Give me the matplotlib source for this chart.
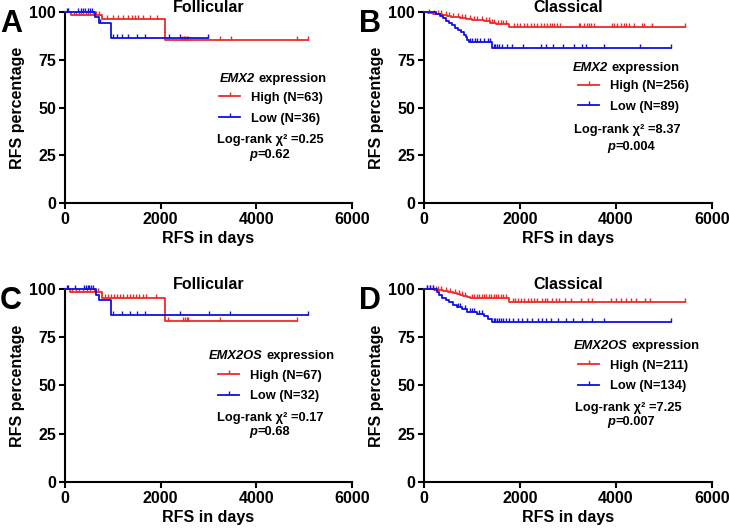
import numpy as np
import matplotlib
matplotlib.use("Agg")
import matplotlib.pyplot as plt
from matplotlib.lines import Line2D

plt.rcParams.update({
    "font.family": ["Liberation Sans", "DejaVu Sans"],
    "font.weight": "bold",
    "axes.labelweight": "bold",
    "axes.titleweight": "bold",
    "font.size": 11.5,
})

RED = "#EE2A2A"
BLUE = "#1010E0"

# ---- data (time in days, RFS percentage; last entry = end of follow-up) ----
A_HIGH_T = [0, 130, 770, 2090, 5080]
A_HIGH_S = [100, 98.4, 96.2, 85.3, 85.3]
A_HIGH_CENS = [180, 230, 290, 330, 380, 430, 480, 530, 580, 640, 700,
               870, 1010, 1110, 1220, 1320, 1390, 1460, 1530, 1640, 1780, 1920,
               2440, 2480, 2510, 2550, 2580, 3240, 3480, 4850, 5080]
A_LOW_T = [0, 630, 700, 960, 2990]
A_LOW_S = [100, 97.2, 94.4, 86.6, 86.6]
A_LOW_CENS = [40, 70, 280, 330, 380, 420, 470, 520, 570, 730,
              1010, 1080, 1190, 1320, 1500, 1670, 2180, 2400, 2990]

B_HIGH_T = [0, 80, 180, 280, 380, 470, 560, 650, 760, 880, 1000, 1120,
            1250, 1370, 1500, 1780, 5440]
B_HIGH_S = [100, 99.6, 99.2, 98.8, 98.4, 98.0, 97.6, 97.2, 96.8, 96.4, 96.0,
            95.6, 95.2, 94.4, 93.8, 92.4, 92.4]
B_HIGH_CENS = [100, 200, 300, 350, 450, 520, 600, 700, 800, 850, 950, 1050,
               1100, 1200, 1300, 1350, 1420, 1460, 1550, 1600, 1650, 1700,
               1870, 1940, 2010, 2080, 2150, 2220, 2290, 2360, 2430, 2500,
               2560, 2620, 2670, 2710, 2770, 2840, 3220, 3260, 3330, 3400,
               3430, 3470, 3540, 3920, 3960, 4030, 4100, 4160, 4200, 4270,
               4380, 4540, 4590, 4750, 5440]
B_LOW_T = [0, 250, 330, 400, 460, 520, 580, 640, 700, 770, 830, 870, 900,
           930, 1420, 5150]
B_LOW_S = [100, 98.9, 97.8, 96.6, 95.4, 94.2, 93.0, 91.8, 90.6, 89.4, 88.2,
           86.9, 85.6, 84.3, 81.0, 81.0]
B_LOW_CENS = [960, 1010, 1060, 1110, 1160, 1250, 1330, 1380, 1450, 1480,
              1520, 1560, 1630, 1730, 1840, 2070, 2430, 2540, 2680, 2890,
              3130, 3300, 3380, 3760, 4500, 5150]

C_HIGH_T = [0, 100, 770, 2090, 4840]
C_HIGH_S = [100, 98.5, 95.5, 83.6, 83.6]
C_HIGH_CENS = [150, 220, 300, 380, 450, 520, 600, 680,
               840, 900, 960, 1020, 1080, 1150, 1220, 1290, 1350, 1420, 1480,
               1540, 1620, 1690, 1900,
               2160, 2470, 2510, 2550, 2580, 3240, 4840]
C_LOW_T = [0, 640, 700, 960, 5080]
C_LOW_S = [100, 97.0, 94.2, 86.7, 86.7]
C_LOW_CENS = [40, 70, 210, 390, 430, 470, 510, 550, 590,
              1010, 1190, 1360, 1500, 1670, 2410, 3000, 3450, 5080]

D_HIGH_T = [0, 200, 400, 500, 600, 680, 750, 820, 900, 950, 1770, 5430]
D_HIGH_S = [100, 99.5, 99.0, 98.5, 98.0, 97.5, 97.0, 96.5, 96.0, 95.4,
            93.1, 93.1]
D_HIGH_CENS = [60, 120, 180, 250, 300, 350, 450, 550, 650, 720, 790, 860,
               1000, 1050, 1100, 1150, 1200, 1250, 1300, 1350, 1400, 1450,
               1500, 1550, 1600, 1650, 1700, 1850, 1900, 1960, 2020, 2090,
               2160, 2230, 2300, 2350, 2450, 2520, 2560, 2660, 2760, 2820,
               2930, 3060, 3280, 3420, 3510, 3900, 4000, 4110, 4200, 4320,
               4420, 4610, 4700, 5430]
D_LOW_T = [0, 270, 320, 380, 450, 520, 600, 680, 800, 900, 1100, 1250,
           1330, 1420, 5150]
D_LOW_S = [100, 98.5, 97.0, 95.5, 94.3, 93.1, 91.9, 90.7, 89.5, 88.3,
           87.0, 85.8, 84.5, 83.0, 83.0]
D_LOW_CENS = [60, 120, 180, 700, 750, 850, 950, 1000, 1050, 1150, 1200,
              1450, 1480, 1520, 1560, 1600, 1650, 1700, 1780, 1850, 1950,
              2050, 2150, 2250, 2380, 2450, 2550, 2650, 2800, 2950, 3100,
              3300, 3500, 3750, 5150]

LETTERS = ["A", "B", "C", "D"]
TITLES = ["Follicular", "Classical", "Follicular", "Classical"]
GENES = ["EMX2", "EMX2", "EMX2OS", "EMX2OS"]
HIGH_LABELS = ["High (N=63)", "High (N=256)", "High (N=67)", "High (N=211)"]
LOW_LABELS = ["Low (N=36)", "Low (N=89)", "Low (N=32)", "Low (N=134)"]
CHI2 = ["0.25", "8.37", "0.17", "7.25"]
PVALS = ["0.62", "0.004", "0.68", "0.007"]

# axes rects in figure fraction
RECTS = [
    [0.0892, 0.6177, 0.3937, 0.3597],
    [0.5816, 0.6177, 0.3951, 0.3597],
    [0.0892, 0.0923, 0.3937, 0.3635],
    [0.5816, 0.0923, 0.3951, 0.3635],
]
# legend layout in axes fraction: header x,y / legend x,ycenter / stats x,y,y
LEG_POS = [
    dict(hx=0.540, hy=0.649, lx=0.537, ly=0.496, sx=0.714, sy=0.330, py=0.251),
    dict(hx=0.517, hy=0.707, lx=0.535, ly=0.558, sx=0.707, sy=0.382, py=0.293),
    dict(hx=0.502, hy=0.654, lx=0.533, ly=0.497, sx=0.714, sy=0.330, py=0.261),
    dict(hx=0.521, hy=0.706, lx=0.535, ly=0.549, sx=0.708, sy=0.383, py=0.313),
]

CURVES = [
    (A_HIGH_T, A_HIGH_S, A_HIGH_CENS, A_LOW_T, A_LOW_S, A_LOW_CENS),
    (B_HIGH_T, B_HIGH_S, B_HIGH_CENS, B_LOW_T, B_LOW_S, B_LOW_CENS),
    (C_HIGH_T, C_HIGH_S, C_HIGH_CENS, C_LOW_T, C_LOW_S, C_LOW_CENS),
    (D_HIGH_T, D_HIGH_S, D_HIGH_CENS, D_LOW_T, D_LOW_S, D_LOW_CENS),
]

LEG_FS = 9.3


def draw_km(ax, t, s, cens, color):
    t = np.asarray(t, dtype=float)
    s = np.asarray(s, dtype=float)
    ax.step(t, s, where="post", color=color, lw=1.3, clip_on=False, zorder=3)
    c = np.asarray(cens, dtype=float)
    idx = np.searchsorted(t, c, side="right") - 1
    ax.plot(c, s[idx], ls="none", marker=2, ms=3, mew=1.0, color=color,
            clip_on=False, zorder=3)


fig = plt.figure(figsize=(7.29, 5.31), dpi=100)

for i in range(4):
    ax = fig.add_axes(RECTS[i])
    ht, hs, hc, lt, ls_, lc = CURVES[i]
    draw_km(ax, ht, hs, hc, RED)
    draw_km(ax, lt, ls_, lc, BLUE)

    ax.set_xlim(0, 6000)
    ax.set_ylim(0, 100)
    ax.set_xticks([0, 2000, 4000, 6000])
    ax.set_yticks([0, 25, 50, 75, 100])
    for sp in ["top", "right"]:
        ax.spines[sp].set_visible(False)
    for sp in ["left", "bottom"]:
        ax.spines[sp].set_linewidth(1.5)
    ax.tick_params(width=1.5, length=4, pad=2.5, labelsize=11.5)
    ax.set_xlabel("RFS in days", fontsize=11.5, labelpad=3)
    ax.set_ylabel("RFS percentage", fontsize=11.5, labelpad=3)
    ax.text(0.5, 1.0, TITLES[i], transform=ax.transAxes, ha="center",
            va="baseline", fontsize=11.5)

    p = LEG_POS[i]
    head = ax.text(p["hx"], p["hy"], GENES[i], transform=ax.transAxes,
                   fontsize=LEG_FS, style="italic", va="center", ha="left")
    ax.annotate("expression", xy=(1, 0), xycoords=head, xytext=(2.5, 0),
                textcoords="offset points", va="bottom", ha="left",
                fontsize=LEG_FS)

    handles = [
        Line2D([], [], color=RED, lw=1.3, marker=2, ms=3, mew=1.0),
        Line2D([], [], color=BLUE, lw=1.3, marker=2, ms=3, mew=1.0),
    ]
    ax.legend(handles, [HIGH_LABELS[i], LOW_LABELS[i]], loc="center left",
              bbox_to_anchor=(p["lx"], p["ly"]), frameon=False,
              fontsize=LEG_FS, numpoints=1, borderpad=0, borderaxespad=0,
              handlelength=1.65, handletextpad=0.85, labelspacing=0.68)

    ax.text(p["sx"], p["sy"], "Log-rank \u03c7\u00b2 =" + CHI2[i],
            transform=ax.transAxes, ha="center", va="center", fontsize=LEG_FS)
    ax.annotate("p", xy=(p["sx"], p["py"]), xycoords="axes fraction",
                xytext=(-9, 0), textcoords="offset points", ha="right",
                va="center", fontsize=LEG_FS, style="italic")
    ax.annotate("=" + PVALS[i], xy=(p["sx"], p["py"]),
                xycoords="axes fraction", xytext=(-9, 0),
                textcoords="offset points", ha="left", va="center",
                fontsize=LEG_FS)

    x0, y0, w, h = RECTS[i]
    fig.text(x0 - 0.089, y0 + h + 0.005, LETTERS[i], fontsize=22,
             fontweight="bold", ha="left", va="top")

fig.savefig("out.png", dpi=100)
